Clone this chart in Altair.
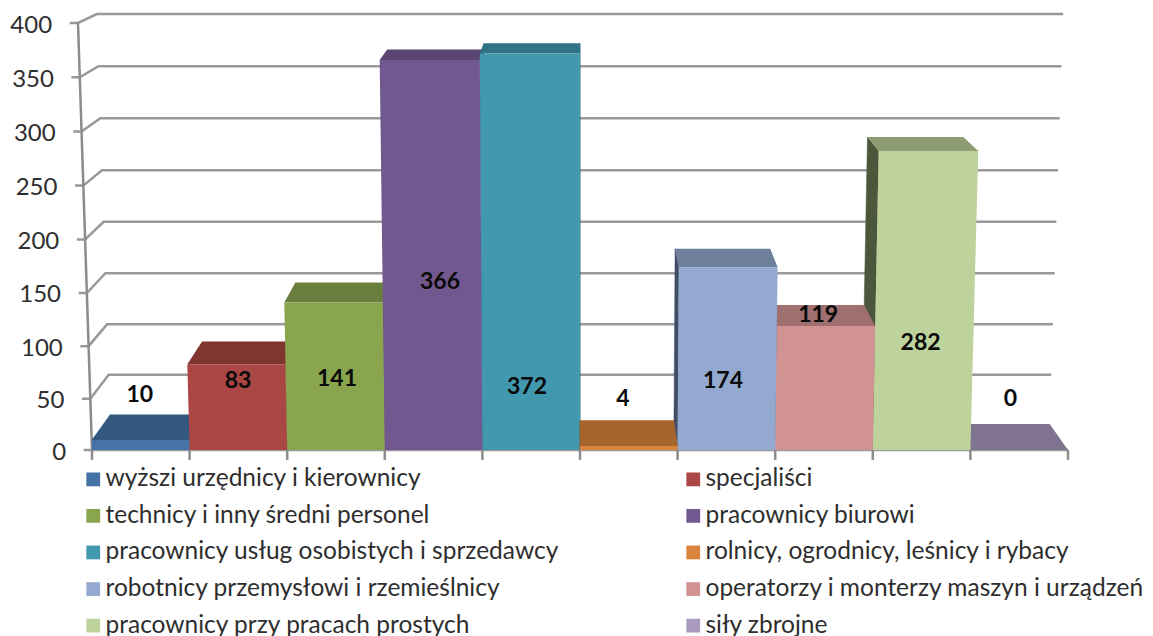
import altair as alt
import pandas as pd

categories = [
    "wyższi urzędnicy i kierownicy", "specjaliści",
    "technicy i inny średni personel", "pracownicy biurowi",
    "pracownicy usług osobistych i sprzedawcy", "rolnicy, ogrodnicy, leśnicy i rybacy",
    "robotnicy przemysłowi i rzemieślnicy", "operatorzy i monterzy maszyn i urządzeń",
    "pracownicy przy pracach prostych", "siły zbrojne",
]
values = [10, 83, 141, 366, 372, 4, 174, 119, 282, 0]
y_ticks = [0, 50, 100, 150, 200, 250, 300, 350, 400]
front_colors = ["#4573A7", "#AA4643", "#89A54E", "#71588F", "#4198AF",
                "#DB843D", "#93A9CF", "#D19392", "#BDD39B", "#A99BBD"]
top_colors = ["#33587F", "#80352F", "#6A7F3D", "#5A4673", "#2F7387",
              "#A5652D", "#6E7F9C", "#A06F6F", "#8D9C72", "#807490"]
side_colors = ["#26415F", "#5F2723", "#4F5E2D", "#432F55", "#235664",
               "#7C4C22", "#3F4D66", "#785353", "#4C563A", "#5F5570"]
# where the data labels sit, in axis units (they were placed by hand in the source)
label_x = [0.49, 1.496, 2.51, 3.566, 4.457, 5.44, 6.465, 7.44, 8.49, 9.41]
label_level = [53.6, 67, 68.9, 160, 61, 49.8, 67, 129, 103, 49.8]

W, H = 1137, 620
EXP = 1.02
X_PX, X0 = 97.6, 92 - 8
Y_RANGE = [442, 15]
x_scale = alt.Scale(domain=[(0 - X0) / X_PX, (W - X0) / X_PX], range=[0, W])
y_scale = alt.Scale(type="pow", exponent=EXP, domain=[0, 400], range=Y_RANGE)


def frac(v):
    return (v / 400) ** EXP


def back(v):
    """value whose front height equals the height of v on the back wall"""
    full = Y_RANGE[0] - Y_RANGE[1]
    return 400 * ((26 + 0.96 * full * frac(v)) / full) ** (1 / EXP)


def px(i, v, d=0):
    """perspective: x position of slot edge i at level v and depth d"""
    return 5 + (i - 5) * (1 + 0.0287 * frac(v)) * (1 - 0.0375 * d)


X = alt.X("x:Q", scale=x_scale, axis=None)
Y = alt.Y("y:Q", scale=y_scale, axis=None)
X2 = alt.X2("x2:Q")


def path(rows, stroke, width=2.5):
    d = pd.DataFrame(rows, columns=["x", "y", "id", "k"])
    return alt.Chart(d).mark_line(stroke=stroke, strokeWidth=width).encode(
        x=X, y=Y, detail="id:N", order="k:Q")


def band(rows, color):
    d = pd.DataFrame(rows, columns=["y", "x", "x2"])
    return alt.Chart(d).mark_area(orient="horizontal", color=color).encode(y=Y, x=X, x2=X2)


grid, y_labels = [], []
for v in y_ticks:
    a = px(0, v)
    grid.append((a - 0.085, v, v, 0))
    grid.append((a, v, v, 1))
    if v:
        grid.append((px(0, v, 1), back(v), v, 2))
        grid.append((px(10, v, 1), back(v), v, 3))
    else:
        grid.append((px(10, 0), 0, v, 2))
    y_labels.append({"x": a - 0.265, "y": v, "t": str(v)})

axis_rows = [(px(0, 0), 0, "a", 0), (px(0, 400), 400, "a", 1)]
for i in range(11):
    axis_rows += [(px(i, 0), 0, f"t{i}", 0), (px(i, 0), -10, f"t{i}", 1)]

layers = [path(grid, "#999999"), path(axis_rows, "#8C8C8C")]

legend = alt.Legend(
    title=None, orient="none", legendX=73, legendY=459, columns=2, direction="horizontal",
    symbolType="square", symbolSize=190, symbolStrokeWidth=0, labelFont="Lato",
    labelFontSize=24.5, labelColor="#2E2E2E", labelOffset=0, rowPadding=11.6,
    columnPadding=122, labelLimit=600, gridAlign="all", padding=0,
)
color = alt.Color("cat:N", scale=alt.Scale(domain=categories, range=front_colors),
                  legend=legend)


def bar(i):
    v = values[i]
    l, r = i, i + 1
    out = []
    # side wall facing the centre of the view
    e = r if i < 5 else l
    side = pd.DataFrame({
        "x": [px(e, 0), px(e, v), px(e, v, 1), px(e, 0, 1), px(e, 0)],
        "y": [0, v, back(v), back(0), 0],
        "k": range(5),
    })
    if v:
        out.append(alt.Chart(side).mark_line(fill=side_colors[i], stroke=side_colors[i],
                                             strokeWidth=0.5).encode(x=X, y=Y, order="k:Q"))
    out.append(band([(v, px(l, v), px(r, v)), (back(v), px(l, v, 1), px(r, v, 1))], top_colors[i]))
    f = pd.DataFrame({"y": [0, v], "x": [px(l, 0), px(l, v)], "x2": [px(r, 0), px(r, v)],
                      "cat": categories[i]})
    out.append(alt.Chart(f).mark_area(orient="horizontal").encode(y=Y, x=X, x2=X2, color=color))
    return out


for i in [0, 1, 2, 3, 4, 9, 8, 7, 6, 5]:
    layers += bar(i)

tick_text = alt.Chart(pd.DataFrame(y_labels)).mark_text(
    align="right", baseline="middle", dy=2.5, font="Lato", fontSize=24, color="#2E2E2E"
).encode(x=X, y=Y, text="t:N")
value_text = alt.Chart(pd.DataFrame({
    "x": label_x, "y": label_level, "t": [str(v) for v in values]
})).mark_text(
    align="center", baseline="middle", font="Lato", fontSize=23, fontWeight="bold", color="#0A0A0A"
).encode(x=X, y=Y, text="t:N")
layers += [tick_text, value_text]

chart = alt.layer(*layers).properties(width=W, height=H, padding=0).configure_view(stroke=None)
chart.save("out.html", embed_options={"renderer": "svg", "actions": False})
